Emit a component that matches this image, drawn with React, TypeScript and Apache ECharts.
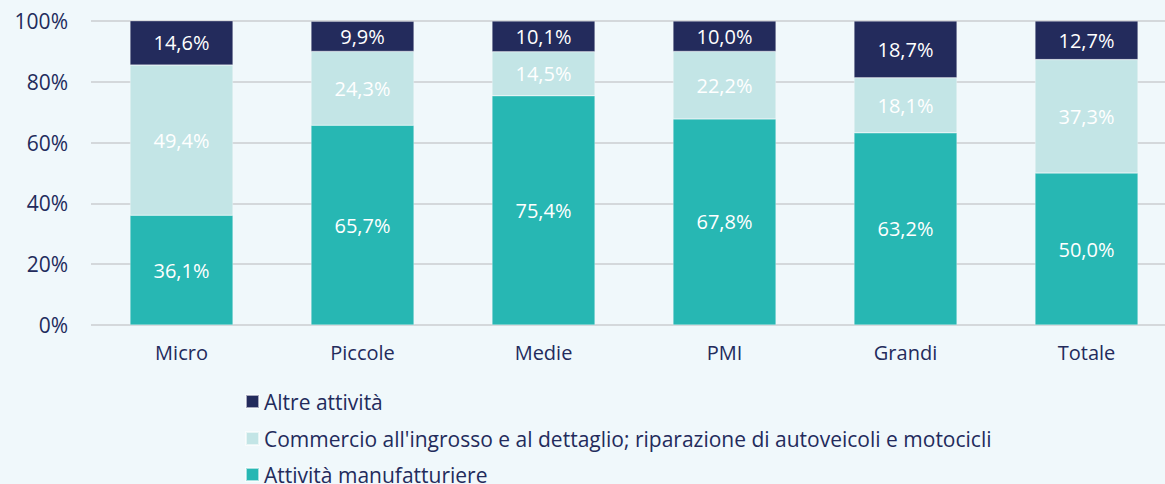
import React, { useEffect, useRef } from "react";
import * as echarts from "echarts";

const categories = ["Micro", "Piccole", "Medie", "PMI", "Grandi", "Totale"];
const manifatturiere = [36.1, 65.7, 75.4, 67.8, 63.2, 50.0];
const commercio = [49.4, 24.3, 14.5, 22.2, 18.1, 37.3];
const altre = [14.6, 9.9, 10.1, 10.0, 18.7, 12.7];
const seriesNames = [
  "Attività manufatturiere",
  "Commercio all'ingrosso e al dettaglio; riparazione di autoveicoli e motocicli",
  "Altre attività",
];

const FONT = "'Open Sans', Roboto, sans-serif";
const NAVY = "#232b5c";
const LIGHT = "#c3e5e6";
const TEAL = "#27b7b3";

export default function App() {
  const ref = useRef<HTMLDivElement>(null);
  useEffect(() => {
    if (!ref.current) return;
    const chart = echarts.init(ref.current, undefined, { renderer: "svg" });
    const fmt = (p: any) => (p.value as number).toFixed(1).replace(".", ",") + "%";
    const label = {
      show: true,
      position: "inside" as const,
      color: "#ffffff",
      fontSize: 20,
      fontFamily: FONT,
      formatter: fmt,
    };
    const mk = (name: string, data: number[], color: string) => ({
      name,
      type: "bar",
      stack: "total",
      data,
      barWidth: 103,
      itemStyle: { color, borderColor: "rgba(255,255,255,0.6)", borderWidth: 0.5 },
      label,
    });
    const legendItem = (name: string, top: number) => ({
      orient: "vertical",
      left: 245,
      top,
      padding: 0,
      itemWidth: 13,
      itemHeight: 13,
      icon: "rect",
      selectedMode: false,
      data: [name],
      textStyle: { color: NAVY, fontSize: 21, lineHeight: 18, fontFamily: FONT },
    });
    chart.setOption({
      animation: false,
      backgroundColor: "#f0f8fb",
      textStyle: { fontFamily: FONT },
      grid: {
        left: 91,
        top: 21,
        width: 1086,
        bottom: 159,
        containLabel: false,
        outerBoundsMode: "none",
      },
      legend: [
        legendItem(seriesNames[2], 391),
        legendItem(seriesNames[1], 428),
        legendItem(seriesNames[0], 464),
      ],
      xAxis: {
        type: "category",
        data: categories,
        axisLine: { show: false },
        axisTick: { show: false },
        axisLabel: { color: NAVY, fontSize: 20, margin: 17, fontFamily: FONT },
      },
      yAxis: {
        type: "value",
        min: 0,
        max: 100,
        interval: 20,
        axisLabel: {
          color: NAVY,
          fontSize: 21,
          margin: 23,
          fontFamily: FONT,
          formatter: (v: number) => v + "%",
        },
        axisLine: { show: false },
        axisTick: { show: false },
        splitLine: { lineStyle: { color: "#d4d8db", width: 2 } },
      },
      series: [
        mk(seriesNames[0], manifatturiere, TEAL),
        mk(seriesNames[1], commercio, LIGHT),
        mk(seriesNames[2], altre, NAVY),
      ],
    });
    return () => chart.dispose();
  }, []);
  return (
    <div
      ref={ref}
      style={{ position: "fixed", left: 0, top: 0, width: 1165, height: 484 }}
    />
  );
}
